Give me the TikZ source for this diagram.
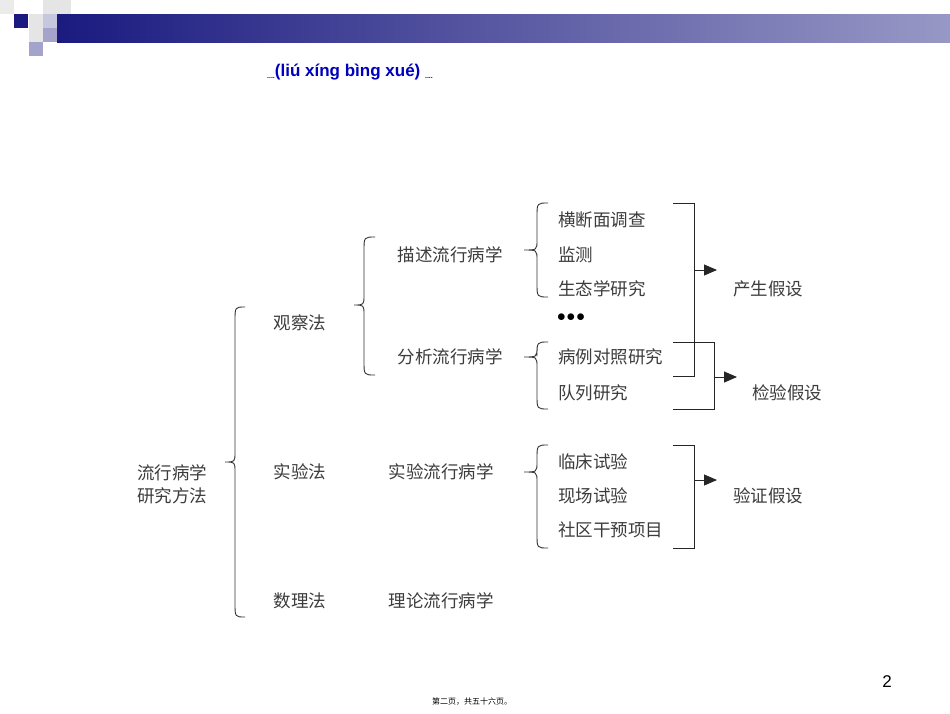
\documentclass[tikz,border=0pt]{standalone}
\usepackage{fontspec}
\setsansfont{Liberation Sans}
\newfontfamily\cjk{Noto Sans CJK SC}
\usetikzlibrary{arrows.meta}
\definecolor{navy}{RGB}{26,26,128}
\definecolor{txt}{RGB}{60,60,60}
\newcommand\mybrace[6]{\draw[brc] (#1,#4) .. controls (#2,#4) .. (#2,#4+14) -- (#2,#5-10) .. controls (#2,#5) .. (#3,#5) .. controls (#2,#5) .. (#2,#5+10) -- (#2,#6-14) .. controls (#2,#6) .. (#1,#6);}
\begin{document}
\begin{tikzpicture}[x=1pt,y=-1pt,
  lbl/.style={font=\cjk\fontsize{17.5}{19}\selectfont,text=txt,inner sep=0pt},
  brc/.style={draw=black!80,line width=0.9pt},
  bk/.style={draw=black!85,line width=0.9pt},
  arr/.style={bk,-{Triangle[length=13pt,width=11pt]}}]
\useasboundingbox (0,0) rectangle (950,713);
\fill[white] (0,0) rectangle (950,713);
% header
\shade[left color=navy,right color=navy!45] (57,14) rectangle (950,42);
\fill[navy] (14,14) rectangle (28,28);
\fill[black!10] (43,0) rectangle (57,14);
\fill[black!10] (57,0) rectangle (71,14);
\fill[black!8] (0,0) rectangle (14,14);
\fill[navy!25] (43,14) rectangle (57,28);
\fill[black!10] (29,14) rectangle (43,28);
\fill[black!10] (29,28) rectangle (43,42);
\fill[navy!40] (43,28) rectangle (57,42);
\fill[navy!40] (29,42) rectangle (43,56);
\node[font=\sffamily\bfseries\fontsize{17}{19}\selectfont,text=blue!75!black,inner sep=0pt] (title) at (350,72) {{\scriptsize\raisebox{-2pt}{....}}(liú xíng bìng xué) {\scriptsize\raisebox{-2pt}{....}}};
% labels
\node[lbl,align=left] (root) at (172,484) {流行病学\\[4pt]研究方法};
\node[lbl] (gc) at (300,323) {观察法};
\node[lbl] (sy) at (300,472) {实验法};
\node[lbl] (sl) at (300,601) {数理法};
\node[lbl] (ms) at (450,255) {描述流行病学};
\node[lbl] (fx) at (450,357) {分析流行病学};
\node[lbl] (sylx) at (441,472) {实验流行病学};
\node[lbl] (ll) at (441,601) {理论流行病学};
\node[lbl,anchor=west] (a1) at (558,220) {横断面调查};
\node[lbl,anchor=west] (a2) at (558,255) {监测};
\node[lbl,anchor=west] (a3) at (558,289) {生态学研究};
\node[font=\fontsize{16}{16}\selectfont,inner sep=0pt] (dots) at (571,318) {$\bullet\!\bullet\!\bullet$};
\node[lbl,anchor=west] (b1) at (558,357) {病例对照研究};
\node[lbl,anchor=west] (b2) at (558,393) {队列研究};
\node[lbl,anchor=west] (c1) at (558,462) {临床试验};
\node[lbl,anchor=west] (c2) at (558,496) {现场试验};
\node[lbl,anchor=west] (c3) at (558,530) {社区干预项目};
\node[lbl] (h1) at (768,289) {产生假设};
\node[lbl] (h2) at (787,393) {检验假设};
\node[lbl] (h3) at (768,496) {验证假设};
% braces
\mybrace{245}{235}{225}{307}{462}{617}
\mybrace{375}{364}{354}{237}{305}{375}
\mybrace{548}{537}{524}{203}{250}{297}
\mybrace{548}{537}{524}{342}{357}{409}
\mybrace{548}{537}{524}{445}{472}{548}
% brackets
\draw[bk] (673,203) -- (694,203) -- (694,376) -- (673,376);
\draw[bk] (673,342) -- (714,342) -- (714,409) -- (673,409);
\draw[bk] (673,445) -- (694,445) -- (694,548) -- (673,548);
\coordinate (e1) at (717,270);
\coordinate (e2) at (737,377);
\coordinate (e3) at (717,480);
\draw[arr] (694,270) -- (e1);
\draw[arr] (714,377) -- (e2);
\draw[arr] (694,480) -- (e3);
% footer
\node[font=\sffamily\fontsize{17}{17}\selectfont,inner sep=0pt] (pg) at (887,682) {2};
\node[font=\cjk\fontsize{8}{9}\selectfont,inner sep=0pt] (ft) at (472,702) {第二页，共五十六页。};
\end{tikzpicture}
\end{document}
